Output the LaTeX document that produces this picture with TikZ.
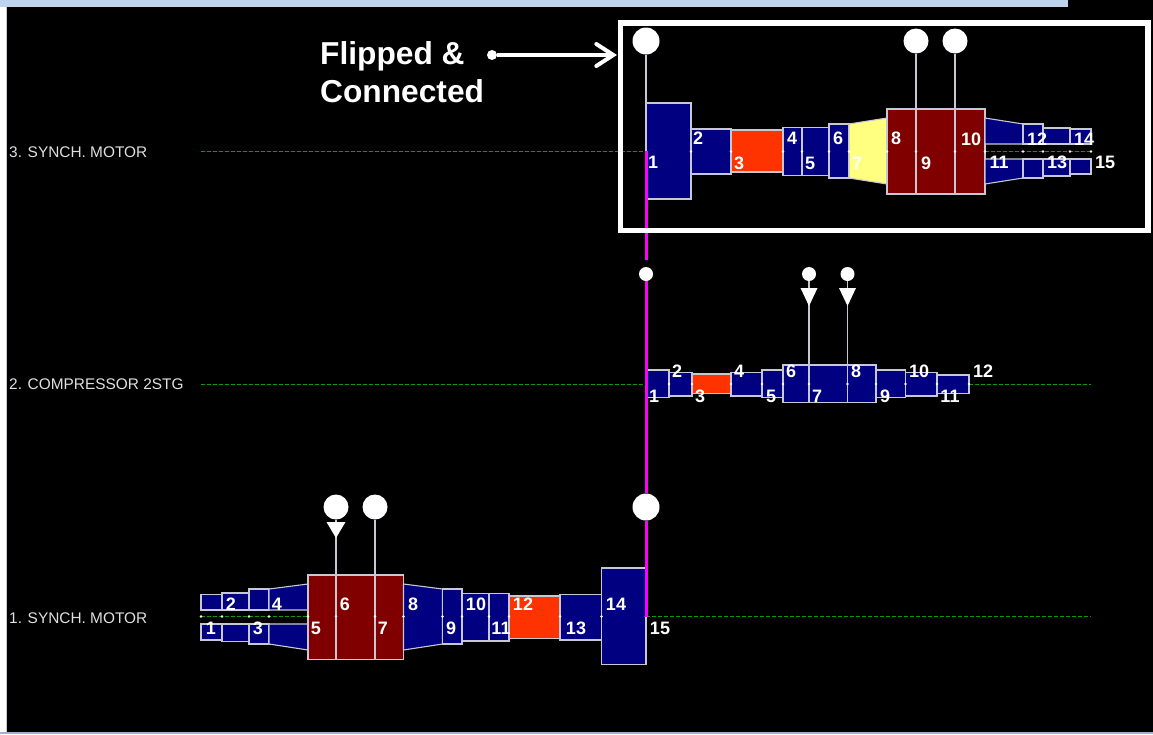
\documentclass[tikz,border=0pt]{standalone}
\usepackage{fontspec}
\setmainfont{Liberation Sans}
\usetikzlibrary{arrows.meta}

\definecolor{shaftblue}{HTML}{000080}
\definecolor{rotorred}{HTML}{800000}
\definecolor{orangered}{HTML}{FF3300}
\definecolor{paleyellow}{HTML}{FFFF80}
\definecolor{edgegray}{HTML}{C8C8D4}
\definecolor{refgreen}{HTML}{00A000}
\definecolor{topblue}{HTML}{BDD3EE}
\definecolor{datumpink}{HTML}{FF00FF}

\tikzstyle{shaft}=[
    draw=edgegray,
    line width=1.1pt,
    fill=shaftblue
]
\tikzstyle{rotor}=[shaft, fill=rotorred]
\tikzstyle{coupling}=[shaft, fill=orangered]
\tikzstyle{taper}=[shaft, fill=paleyellow]
\tikzstyle{seglabel}=[
    text=white,
    inner sep=0pt,
    font=\fontsize{18}{18}\selectfont\bfseries
]
\tikzstyle{trainlabel}=[
    text=white!88!black,
    inner sep=0pt,
    anchor=west,
    font=\fontsize{15.4}{16}\selectfont
]
\tikzstyle{bearing}=[
    circle,
    fill=white,
    inner sep=0pt
]
\tikzstyle{bearingbig}=[bearing, minimum size=27pt]
\tikzstyle{bearingmid}=[bearing, minimum size=25pt]
\tikzstyle{bearingsmall}=[bearing, minimum size=14pt]
\tikzstyle{support}=[draw=edgegray, line width=1.1pt]
\tikzstyle{axis}=[draw=refgreen, line width=1.2pt, dash pattern=on 4pt off 2pt]
\tikzstyle{datum}=[draw=datumpink, line width=3pt]

\begin{document}
\begin{tikzpicture}[x=1pt,y=-1pt,>={Straight Barb[length=17pt,width=22pt,line cap=round]}]
	\useasboundingbox (0,0) rectangle (1153,734);

	% BACKGROUND
	\fill[black] (0,0) rectangle (1153,734);
	\fill[topblue] (0,0) rectangle (1068,7);
	\fill[white] (0,7) rectangle (6,732);
	\fill[edgegray] (6,7) rectangle (7,732);
	\fill[topblue!85!black] (0,732) rectangle (1153,734);

	% AXIS LINES
	\draw[axis] (201,151.2) -- (646,151.2);
	\draw[axis] (985,151.2) -- (1091,151.2);
	\draw[axis] (201,384.5) -- (646,384.5);
	\draw[axis] (969,384.5) -- (1091,384.5);
	\draw[axis] (201,616.5) -- (308,616.5);
	\draw[axis] (646,616.5) -- (1091,616.5);

	% TRAIN 3
	\foreach \xa/\xb/\ya/\yb in {646/691/103/199, 691/731/129/174, 783/802/127.5/175.5,
			802/829/127.5/175.5, 829/849/124/178}
		\draw[shaft] (\xa,\ya) rectangle (\xb,\yb);
	\draw[coupling] (731,130) rectangle (783,172);
	\draw[taper] (849,124) -- (887,118) -- (887,184) -- (849,178) -- cycle;
	\foreach \xa/\xb in {887/916, 916/955, 955/985}
		\draw[rotor] (\xa,109) rectangle (\xb,194);
	\draw[shaft] (985,118) -- (1023,124) -- (1023,144) -- (985,144) -- cycle;
	\draw[shaft] (985,184) -- (1023,178) -- (1023,159) -- (985,159) -- cycle;
	\foreach \xa/\xb/\ya/\yb/\yc/\yd in {1023/1043/124/144/159/178, 1043/1070/128/144/159/176,
			1070/1091/129/144/159/174} {
		\draw[shaft] (\xa,\ya) rectangle (\xb,\yb);
		\draw[shaft] (\xa,\yc) rectangle (\xb,\yd);
	}

	% TRAIN 2
	\foreach \xa/\xb/\ya/\yb in {646/669/370/397.5, 669/692/372.5/396, 731/762/372.5/396,
			762/783/370/397.5, 783/809/365/402.5, 809/847.5/365/402.5, 847.5/876/365/402.5,
			876/905.5/370/397.5, 905.5/937/372.5/396, 937/969/375/393.5}
		\draw[shaft] (\xa,\ya) rectangle (\xb,\yb);
	\draw[coupling] (692,374) rectangle (731,393.5);

	% TRAIN 1
	\foreach \xa/\xb/\ya/\yb/\yc/\yd in {201/222/594.5/610/624/640, 222/249/593/610/624/641.5,
			249/269/589/610/624/644} {
		\draw[shaft] (\xa,\ya) rectangle (\xb,\yb);
		\draw[shaft] (\xa,\yc) rectangle (\xb,\yd);
	}
	\draw[shaft] (269,589) -- (308,584) -- (308,610) -- (269,610) -- cycle;
	\draw[shaft] (269,644) -- (308,650) -- (308,624) -- (269,624) -- cycle;
	\foreach \xa/\xb in {308/336, 336/375, 375/403.5}
		\draw[rotor] (\xa,575) rectangle (\xb,659.5);
	\draw[shaft] (403.5,584) -- (442.5,589) -- (442.5,644) -- (403.5,650) -- cycle;
	\foreach \xa/\xb/\ya/\yb in {442.5/462/589/644, 462/489/593.5/641, 489/509/593.5/641,
			560/601.5/594.5/640, 601.5/646/568/664.5}
		\draw[shaft] (\xa,\ya) rectangle (\xb,\yb);
	\draw[coupling] (509,596) rectangle (560,638.5);

	% STATION DOTS
	\foreach \xa in {691,731,783,802,829,849,887,916,955,985,1023,1043,1070,1091}
		\fill[white] (\xa,151.5) circle (1.3pt);
	\foreach \xa in {669,692,731,762,783,809,847.5,876,905.5,937,969}
		\fill[white] (\xa,384) circle (1.3pt);
	\foreach \xa in {201,222,249,269,308,336,375,403.5,442.5,462,489,509,560,601.5,646}
		\fill[white] (\xa,616.5) circle (1.3pt);

	% BEARINGS
	\node (b3_1) [bearingbig] at (646,41) {};
	\node (b3_9) [bearingmid] at (916,41) {};
	\node (b3_10) [bearingmid] at (955,41) {};
	\node (b2_1) [bearingsmall] at (646,274) {};
	\node (b2_7) [bearingsmall] at (809,274) {};
	\node (b2_8) [bearingsmall] at (847.5,274) {};
	\node (b1_6) [bearingmid] at (336,507) {};
	\node (b1_7) [bearingmid] at (375,507) {};
	\node (b1_15) [bearingbig] at (646,507) {};

	\coordinate (r3_1) at (646,103);
	\coordinate (r3_9) at (916,109);
	\coordinate (r3_10) at (955,109);
	\coordinate (r2_7) at (809,365);
	\coordinate (r2_8) at (847.5,365);
	\coordinate (r1_6) at (336,575);
	\coordinate (r1_7) at (375,575);
	\path[support]
	(b3_1) edge (r3_1)
	(b3_9) edge (r3_9)
	(b3_10) edge (r3_10)
	(b2_7) edge (r2_7)
	(b2_8) edge (r2_8)
	(b1_6) edge (r1_6)
	(b1_7) edge (r1_7)
	;

	% THRUST TRIANGLES
	\fill[white] (800.5,288) -- (817.5,288) -- (809,306) -- cycle;
	\fill[white] (839,288) -- (856,288) -- (847.5,306) -- cycle;
	\fill[white] (326.5,522) -- (345.5,522) -- (336,538) -- cycle;

	% DATUM LINE
	\coordinate (d3_top) at (646,151);
	\coordinate (d3_end) at (646,260);
	\coordinate (d1_end) at (646,617);
	\draw[datum] (d3_top) -- (d3_end);
	\draw[datum] (b2_1) -- (b1_15);
	\draw[datum] (b1_15) -- (d1_end);

	% SEGMENT LABELS
	\foreach \n/\xa/\ya in {1/653/162, 2/698/138, 3/739/163, 4/792/138, 5/810/163, 6/838/138,
			7/857/163, 8/896/138, 9/926/163, 10/971/139, 11/999/162, 12/1037/139,
			13/1057/162, 14/1084/139, 15/1105/162}
		\node (s3_\n) [seglabel] at (\xa,\ya) {\n};
	\foreach \n/\xa/\ya in {1/654/396, 2/677/371, 3/700/396, 4/739/371, 5/771/396, 6/791/371,
			7/817/396, 8/856/371, 9/885/396, 10/919/371, 11/950/396, 12/983/371}
		\node (s2_\n) [seglabel] at (\xa,\ya) {\n};
	\foreach \n/\xa/\ya in {1/211/628, 2/231/604, 3/258/628, 4/277/604, 5/316/628, 6/345/604,
			7/383/628, 8/413/604, 9/451/628, 10/476/604, 11/501/628, 12/523/604,
			13/576/628, 14/616/604, 15/660/628}
		\node (s1_\n) [seglabel] at (\xa,\ya) {\n};

	% TRAIN LABELS
	\node (t3) [trainlabel] at (9,152.5) {3. SYNCH. MOTOR};
	\node (t2) [trainlabel] at (9,384.5) {2. COMPRESSOR 2STG};
	\node (t1) [trainlabel] at (9,618) {1. SYNCH. MOTOR};

	% CALLOUT
	\draw[white, line width=5.5pt] (620.5,23) rectangle (1148,230.5);
	\node (flip) [text=white, inner sep=0pt, anchor=west, align=left,
		font=\fontsize{31.7}{38}\selectfont\bfseries] at (320,72) {Flipped \&\\Connected};
	\node (dot) [circle, fill=white, inner sep=0pt, minimum size=10pt] at (492,55) {};
	\coordinate (frameleft) at (617,55);
	\draw[->, white, line width=4pt] (dot) -- (frameleft);
\end{tikzpicture}
\end{document}
